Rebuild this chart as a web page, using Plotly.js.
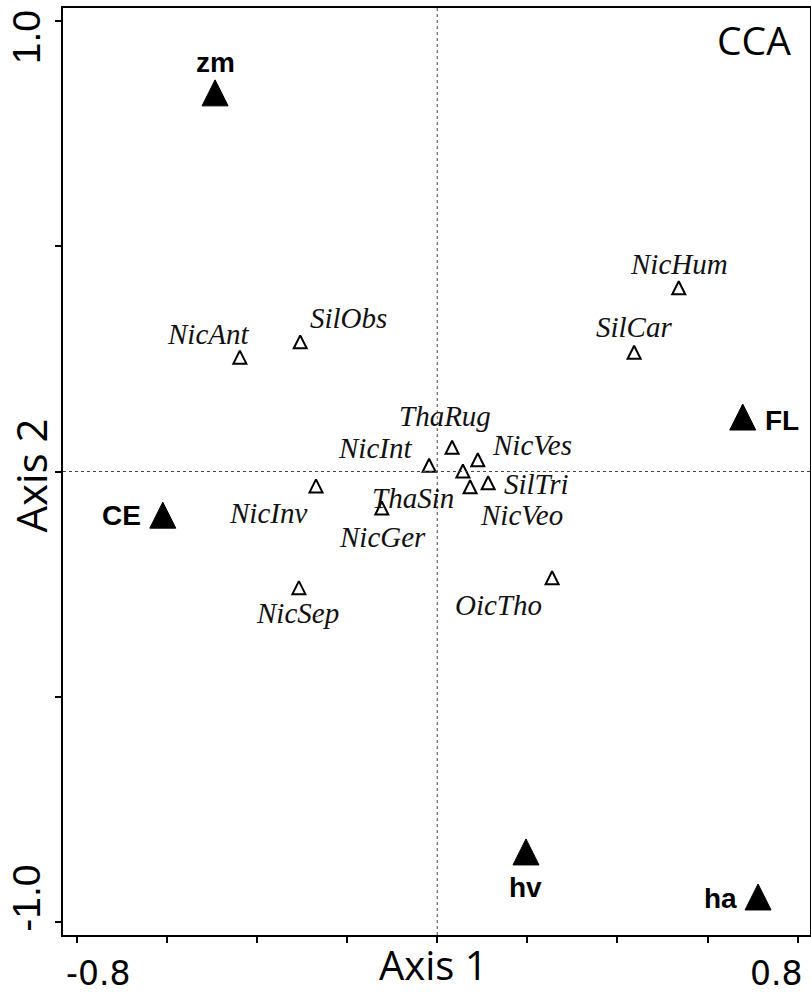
<!DOCTYPE html>
<html>
<head>
<meta charset="utf-8">
<script src="https://cdn.plot.ly/plotly-3.0.1.min.js"></script>
<style>
  html, body { margin: 0; padding: 0; background: #fff; }
  #chart { width: 811px; height: 992px; }
</style>
</head>
<body>
<div id="chart"></div>
<script>
// CCA ordination scores: species (open triangles) and environmental variables (filled triangles)
const speciesNames = ['NicHum', 'SilCar', 'NicAnt', 'SilObs', 'ThaRug', 'NicInt', 'NicVes',
                      'ThaSin', 'SilTri', 'NicVeo', 'NicGer', 'NicInv', 'NicSep', 'OicTho'];
const speciesAxis1 = [0.536, 0.437, -0.438, -0.304, 0.033, -0.018, 0.090,
                      0.057, 0.113, 0.073, -0.123, -0.269, -0.307, 0.255];
const speciesAxis2 = [0.408, 0.265, 0.254, 0.288, 0.054, 0.014, 0.026,
                      0.001, -0.025, -0.034, -0.081, -0.032, -0.258, -0.236];

const envNames = ['zm', 'CE', 'FL', 'hv', 'ha'];
const envAxis1 = [-0.493, -0.609, 0.678, 0.197, 0.712];
const envAxis2 = [0.841, -0.097, 0.121, -0.845, -0.945];

// axis ticks and labelled ticks
const xTicks = [-0.8, -0.6, -0.4, -0.2, 0, 0.2, 0.4, 0.6, 0.8];
const yTicks = [-1.0, -0.5, 0, 0.5, 1.0];
const xTickLabels = ['-0.8', '0.8'];
const yTickLabels = ['1.0', '-1.0'];

// pixel offsets of each point label relative to its marker (x right, y up)
const speciesLabelShift = {
  NicHum: [0, 24], SilCar: [0, 25], NicAnt: [-32, 23], SilObs: [48, 24],
  ThaRug: [-7, 31], NicInt: [-54, 17], NicVes: [54, 15], ThaSin: [-50, -27],
  SilTri: [48, -1], NicVeo: [51, -28], NicGer: [1, -29], NicInv: [-48, -27],
  NicSep: [-1, -25], OicTho: [-54, -27]
};
const envLabelShift = {
  zm: [0, 30], CE: [-41, 0], FL: [39, -3], hv: [0, -36], ha: [-38, -2]
};

// near-equilateral triangles: an arrow head turned upright and pushed back
// by its radius so that the triangle sits centred on the point
const openSize = 13, filledSize = 26;
const speciesTrace = {
  type: 'scatter', mode: 'markers',
  x: speciesAxis1, y: speciesAxis2, text: speciesNames,
  marker: { symbol: 'arrow-down-open', angle: 180, standoff: openSize / 2,
            size: openSize, color: '#000', line: { width: 2, color: '#000' } },
  hoverinfo: 'text', showlegend: false
};
const envTrace = {
  type: 'scatter', mode: 'markers',
  x: envAxis1, y: envAxis2, text: envNames,
  marker: { symbol: 'arrow-down', angle: 180, standoff: filledSize / 2,
            size: filledSize, color: '#000', line: { width: 1, color: '#000' } },
  hoverinfo: 'text', showlegend: false
};

const annotations = [];
speciesNames.forEach((n, i) => {
  annotations.push({
    x: speciesAxis1[i], y: speciesAxis2[i], xref: 'x', yref: 'y',
    text: n, showarrow: false, xanchor: 'center', yanchor: 'middle',
    xshift: speciesLabelShift[n][0], yshift: speciesLabelShift[n][1],
    font: { family: 'Liberation Serif, Times New Roman, serif', style: 'italic', size: 29, color: '#111' }
  });
});
envNames.forEach((n, i) => {
  annotations.push({
    x: envAxis1[i], y: envAxis2[i], xref: 'x', yref: 'y',
    text: n, showarrow: false, xanchor: 'center', yanchor: 'middle',
    xshift: envLabelShift[n][0], yshift: envLabelShift[n][1],
    font: { family: 'Liberation Sans, Arial, sans-serif', weight: 'bold', size: 28, color: '#000' }
  });
});

// tick labels, only the outer ticks carry text
annotations.push(
  { x: -0.8, y: 0, xref: 'x', yref: 'paper', text: xTickLabels[0], showarrow: false,
    xanchor: 'center', yanchor: 'middle', xshift: 21, yshift: -38,
    font: { family: 'DejaVu Sans, sans-serif', size: 33, color: '#000' } },
  { x: 0.8, y: 0, xref: 'x', yref: 'paper', text: xTickLabels[1], showarrow: false,
    xanchor: 'center', yanchor: 'middle', xshift: -22, yshift: -38,
    font: { family: 'DejaVu Sans, sans-serif', size: 33, color: '#000' } },
  { x: 0, y: 1.0, xref: 'paper', yref: 'y', text: yTickLabels[0], showarrow: false, textangle: -90,
    xanchor: 'center', yanchor: 'middle', xshift: -37, yshift: -16,
    font: { family: 'Liberation Sans, Arial, sans-serif', size: 39, color: '#000' } },
  { x: 0, y: -1.0, xref: 'paper', yref: 'y', text: yTickLabels[1], showarrow: false, textangle: -90,
    xanchor: 'center', yanchor: 'middle', xshift: -36, yshift: 23,
    font: { family: 'Liberation Sans, Arial, sans-serif', size: 39, color: '#000' } },
  // axis titles
  { x: 0.5, y: 0, xref: 'paper', yref: 'paper', text: 'Axis 1', showarrow: false,
    xanchor: 'center', yanchor: 'middle', xshift: -3, yshift: -29,
    font: { family: 'Open Sans, sans-serif', size: 40, color: '#000' } },
  { x: 0, y: 0.5, xref: 'paper', yref: 'paper', text: 'Axis 2', showarrow: false, textangle: -90,
    xanchor: 'center', yanchor: 'middle', xshift: -33, yshift: -4,
    font: { family: 'Open Sans, sans-serif', size: 42, color: '#000' } },
  // panel tag
  { x: 1, y: 1, xref: 'paper', yref: 'paper', text: 'CCA', showarrow: false,
    xanchor: 'right', yanchor: 'middle', xshift: -17, yshift: -31,
    font: { family: 'Open Sans, sans-serif', size: 39, color: '#000' } }
);

const layout = {
  width: 811, height: 992,
  margin: { l: 63, r: 1, t: 8, b: 57, pad: 0 },
  paper_bgcolor: '#fff', plot_bgcolor: '#fff',
  showlegend: false,
  xaxis: {
    range: [-0.8305, 0.8273], tickvals: xTicks, showticklabels: false,
    ticks: 'outside', ticklen: 6, tickwidth: 2, tickcolor: '#000',
    showline: true, linecolor: '#000', linewidth: 2, mirror: true,
    showgrid: false, zeroline: false, fixedrange: true
  },
  yaxis: {
    range: [-1.0295, 1.0295], tickvals: yTicks, showticklabels: false,
    ticks: 'outside', ticklen: 6, tickwidth: 2, tickcolor: '#000',
    showline: true, linecolor: '#000', linewidth: 2, mirror: true,
    showgrid: false, zeroline: false, fixedrange: true
  },
  shapes: [
    { type: 'line', xref: 'x', yref: 'paper', x0: 0, x1: 0, y0: 0, y1: 1,
      line: { color: '#444', width: 1, dash: 'dot' } },
    { type: 'line', xref: 'paper', yref: 'y', x0: 0, x1: 1, y0: 0, y1: 0,
      line: { color: '#444', width: 1, dash: 'dot' } }
  ],
  annotations: annotations
};

Plotly.newPlot('chart', [speciesTrace, envTrace], layout, { displayModeBar: false, staticPlot: true });
</script>
</body>
</html>
